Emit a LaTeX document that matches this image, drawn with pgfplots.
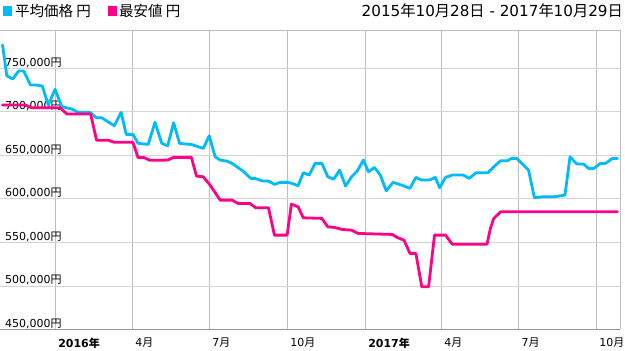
\documentclass[border=0pt]{standalone}
\usepackage{pgfplots}
\pgfplotsset{compat=1.18}
\usepackage{fontspec}
\setmainfont{DejaVu Sans}
\newfontfamily\cjk{Noto Sans CJK JP}
\newcommand{\J}[1]{{\cjk #1}}
\definecolor{cblue}{RGB}{0,187,247}
\definecolor{cpink}{RGB}{255,0,136}
\definecolor{gridv}{RGB}{190,190,190}
\definecolor{gridh}{RGB}{212,212,212}
\definecolor{axl}{RGB}{150,150,150}
\begin{document}
\begin{tikzpicture}
\useasboundingbox (0,0) rectangle (625pt,351pt);
\begin{axis}[
  at={(0pt,21.5pt)}, anchor=south west,
  scale only axis, width=620pt, height=299.5pt,
  xmin=0, xmax=732, ymin=450000, ymax=794000,
  axis line style={draw=none},
  major tick length=0pt,
  xtick={65,156,247,339,431,521,612,704},
  xticklabels={{\textbf{2016}\J{\bfseries 年}},{4\J{月}},{7\J{月}},{10\J{月}},{\textbf{2017}\J{\bfseries 年}},{4\J{月}},{7\J{月}},{10\J{月}}},
  ytick={450000,500000,550000,600000,650000,700000,750000},
  yticklabels={{450,000\J{円}},{500,000\J{円}},{550,000\J{円}},{600,000\J{円}},{650,000\J{円}},{700,000\J{円}},{750,000\J{円}}},
  xmajorgrids, ymajorgrids,
  x grid style={gridv, line width=0.9pt},
  y grid style={gridh, line width=0.9pt},
  yticklabel style={anchor=base west, inner sep=0pt, xshift=5pt, yshift=2pt, font=\fontsize{11}{11}\selectfont, text=black},
  xticklabel style={anchor=north west, inner sep=0pt, xshift=3pt, yshift=-8pt, font=\fontsize{11}{11}\selectfont, text=black},
  scaled y ticks=false,
  clip=false,
]
\draw[gridv, line width=0.9pt] (rel axis cs:0,1) -- (rel axis cs:1,1) -- (rel axis cs:1,0);
\addplot[cblue, line width=2.8pt, line join=round, line cap=round] coordinates {
(3,776800) (8,741500) (15,737700) (22,746900) (28,746900) (36,730800) (43,730800) (50,729600)
(57,707800) (65,725900) (73,705900) (85,703200) (92,699400) (106,699400) (114,693200) (120,693200)
(135,684000) (143,699400) (149,674100) (157,674100) (163,663800) (175,662600) (183,688000) (191,663800)
(198,661000) (205,687500) (212,663800) (219,663000) (226,662600) (234,659900) (240,658000) (247,672500)
(254,648400) (260,644600) (268,643400) (274,640800) (287,631900) (296,623600) (301,623600) (310,620500)
(317,620500) (324,616700) (331,619000) (339,619000) (345,617800) (352,615100) (358,630000) (365,627400)
(372,640800) (380,640800) (387,625400) (394,622700) (401,633100) (408,614700) (415,625400) (422,632300)
(429,644600) (435,631100) (442,636200) (449,627400) (456,609300) (464,619000) (474,615900) (484,612100)
(491,624700) (498,621600) (507,621600) (514,624700) (519,612800) (526,624700) (534,627400) (547,627400)
(554,623600) (562,630000) (576,630000) (583,636900) (591,643800) (599,643800) (604,646500) (610,646500)
(624,633100) (631,601300) (640,602400) (654,602400) (667,604400) (673,648400) (681,640000) (689,640000)
(695,635000) (701,635000) (709,640800) (715,640800) (723,646500) (729,646500)
};
\addplot[cpink, line width=2.8pt, line join=round, line cap=round] coordinates {
(3,707800) (30,707800) (37,704700) (71,704700) (79,697500) (107,697500) (114,667400) (128,667400)
(135,665000) (157,665000) (163,647500) (170,647500) (177,644300) (198,644600) (205,647700) (226,647700)
(232,626200) (240,625400) (248,615900) (260,598600) (274,598600) (281,594800) (295,594800) (302,589800)
(317,589800) (324,558400) (339,558400) (344,594000) (352,590900) (358,578300) (380,577600) (387,567900)
(395,567200) (404,564900) (415,564100) (423,560300) (463,559200) (469,555700) (477,552600) (484,537400)
(491,537400) (498,499000) (506,499000) (513,558400) (526,558400) (534,548000) (575,548000) (579,566100)
(583,577600) (591,585200) (729,585200)
};
\draw[axl, line width=1pt] (rel axis cs:0,0) -- (rel axis cs:1,0);
\end{axis}
\fill[cblue] (3pt,335pt) rectangle (12pt,345pt);
\node[anchor=west, inner sep=0pt, font=\fontsize{14.5}{14.5}\selectfont] at (15pt,340pt) {\J{平均価格 円}};
\fill[cpink] (108pt,335pt) rectangle (117pt,345pt);
\node[anchor=west, inner sep=0pt, font=\fontsize{14.5}{14.5}\selectfont] at (119pt,340pt) {\J{最安値 円}};
\node[anchor=east, inner sep=0pt, font=\fontsize{15.2}{15.2}\selectfont] at (623pt,340pt) {2015\J{年}10\J{月}28\J{日} - 2017\J{年}10\J{月}29\J{日}};
\end{tikzpicture}
\end{document}
